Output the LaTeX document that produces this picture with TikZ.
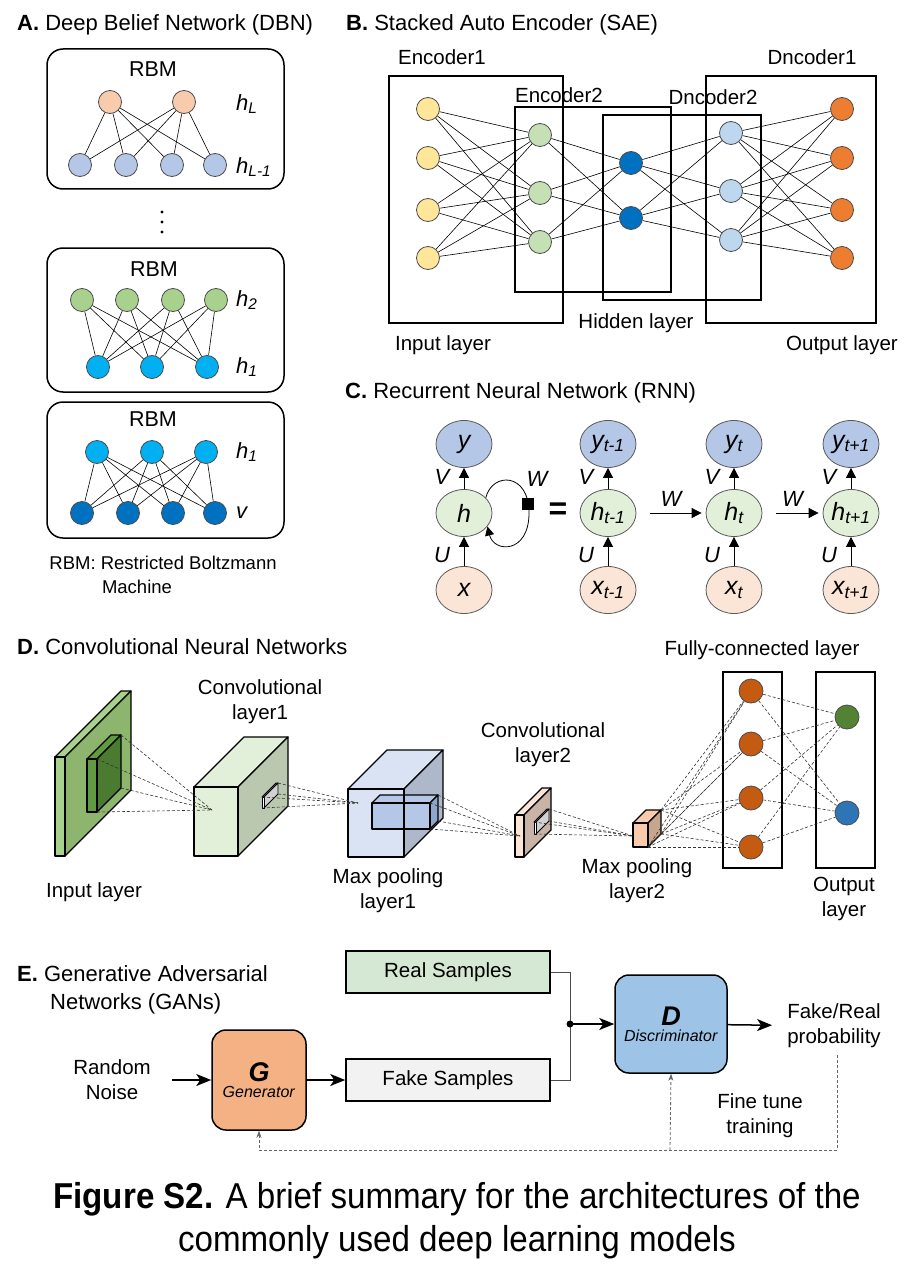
\documentclass[tikz,border=0pt]{standalone}
\usepackage{fontspec}
\setmainfont{Liberation Sans}
\newfontfamily\captionfont[FakeStretch=0.92]{Liberation Sans}
\usetikzlibrary{arrows.meta,positioning,shapes.geometric,calc}

\definecolor{peach}{HTML}{F8CBAD}
\definecolor{greyblue}{HTML}{B4C7E7}
\definecolor{leaf}{HTML}{A9D18E}
\definecolor{sky}{HTML}{00B0F0}
\definecolor{navy}{HTML}{0070C0}
\definecolor{butter}{HTML}{FFE699}
\definecolor{mint}{HTML}{C5E0B4}
\definecolor{ice}{HTML}{BDD7EE}
\definecolor{tangerine}{HTML}{ED7D31}
\definecolor{hgreen}{HTML}{E2F0D9}
\definecolor{xpeach}{HTML}{FBE5D6}
\definecolor{rust}{HTML}{C55A11}
\definecolor{outgreen}{HTML}{548235}
\definecolor{outblue}{HTML}{2E75B6}
\definecolor{realfill}{HTML}{D5E8D4}
\definecolor{fakefill}{HTML}{F2F2F2}
\definecolor{genfill}{HTML}{F4B183}
\definecolor{discfill}{HTML}{9DC3E6}
\definecolor{slabside}{HTML}{8DB56E}
\definecolor{kernfront}{HTML}{609A43}
\definecolor{kernside}{HTML}{4B7A31}
\definecolor{convside}{HTML}{BAC8B0}
\definecolor{poolfront}{HTML}{DAE3F3}
\definecolor{poolside}{HTML}{ADB9CA}
\definecolor{poolin}{HTML}{8FA6CC}
\definecolor{brownside}{HTML}{C9B2A6}
\definecolor{tanside}{HTML}{C8A58D}

\tikzset{
  unit/.style={circle, draw=black!70, line width=0.8pt, minimum size=23pt, inner sep=0pt},
  wire/.style={line width=0.6pt},
  layerbox/.style={draw, line width=1.6pt},
  rbmbox/.style={draw, line width=1.5pt, rounded corners=16pt},
  heading/.style={anchor=west, inner sep=0pt, font=\fontsize{22}{26}\selectfont},
  lbl/.style={inner sep=1pt, align=center, font=\fontsize{20.5}{25}\selectfont},
  mathlbl/.style={anchor=west, inner sep=0pt, font=\fontsize{22}{26}\selectfont\itshape},
  rnn/.style={ellipse, draw=black!65, line width=0.8pt, minimum width=56pt, minimum height=47pt, inner sep=0pt, font=\fontsize{25}{28}\selectfont\itshape},
  rnnlbl/.style={inner sep=0pt, font=\fontsize{22}{26}\selectfont\itshape},
  uparrow/.style={line width=0.8pt, -{Triangle[length=10pt,width=10pt]}},
  cubeedge/.style={draw=black, line width=1.3pt, line join=round},
  ray/.style={dash pattern=on 3pt off 2pt, line width=0.6pt, black!80},
  sample/.style={draw, line width=1.5pt, minimum width=204pt, minimum height=42pt, font=\fontsize{20.5}{24}\selectfont},
  netbox/.style={draw, line width=1.5pt, rounded corners=14pt, align=center},
  bigarrow/.style={line width=1.5pt, -{Stealth[length=15pt,width=12pt,inset=4pt]}},
  merge/.style={line width=0.9pt, black!70},
  fback/.style={dash pattern=on 3pt off 2pt, line width=0.8pt, black!60, -{Stealth[length=7pt,width=5pt]}},
}

% #1 name, #2 front top left, #3 width, #4 height, #5 depth, #6 front, #7 side, #8 top
\newcommand{\prism}[8]{%
  \coordinate (#1-ftl) at #2;
  \coordinate (#1-ftr) at ($(#1-ftl)+(#3,0)$);
  \coordinate (#1-fbl) at ($(#1-ftl)+(0,#4)$);
  \coordinate (#1-fbr) at ($(#1-ftr)+(0,#4)$);
  \coordinate (#1-btl) at ($(#1-ftl)+(#5,-#5)$);
  \coordinate (#1-btr) at ($(#1-ftr)+(#5,-#5)$);
  \coordinate (#1-bbr) at ($(#1-fbr)+(#5,-#5)$);
  \filldraw[cubeedge, fill=#8] (#1-ftl) -- (#1-btl) -- (#1-btr) -- (#1-ftr) -- cycle;
  \filldraw[cubeedge, fill=#7] (#1-ftr) -- (#1-btr) -- (#1-bbr) -- (#1-fbr) -- cycle;
  \filldraw[cubeedge, fill=#6] (#1-ftl) rectangle (#1-fbr);
}

\begin{document}
\begin{tikzpicture}[x=1pt,y=-1pt]
\useasboundingbox (0,0) rectangle (915,1284);
\fill[white] (0,0) rectangle (915,1284);

% A. Deep Belief Network
\node[heading] (headA) at (17,25) {\textbf{A.} Deep Belief Network (DBN)};

\draw[rbmbox] (47,49) rectangle (284,189);
\node[lbl, font=\fontsize{21.5}{25}\selectfont] (rbmA) at (153,69) {RBM};
\foreach \x [count=\i] in {110,184}
  \node[unit, fill=peach] (hl\i) at (\x,102) {};
\foreach \x [count=\i] in {80,126,172,215}
  \node[unit, fill=greyblue] (hm\i) at (\x,165) {};
\foreach \i in {1,2}
  \foreach \j in {1,...,4}
    \draw[wire] (hl\i) -- (hm\j);
\node[mathlbl] (labhl) at (236,104) {h\textsubscript{L}};
\node[mathlbl] (labhm) at (236,167) {h\textsubscript{L-1}};

% vertical dots
\foreach \y in {212,222,232}
  \fill (162,\y) circle (1.6pt);

\draw[rbmbox] (47,248) rectangle (284,392);
\node[lbl, font=\fontsize{21.5}{25}\selectfont] (rbmB) at (154,269) {RBM};
\foreach \x [count=\i] in {82,127,173,216}
  \node[unit, fill=leaf] (htwo\i) at (\x,300) {};
\foreach \x [count=\i] in {98,152,207}
  \node[unit, fill=sky] (hone\i) at (\x,367) {};
\foreach \i in {1,...,4}
  \foreach \j in {1,2,3}
    \draw[wire] (htwo\i) -- (hone\j);
\node[mathlbl] (labhtwo) at (236,300) {h\textsubscript{2}};
\node[mathlbl] (labhone) at (236,367) {h\textsubscript{1}};

\draw[rbmbox] (47,402) rectangle (284,538);
\node[lbl, font=\fontsize{21.5}{25}\selectfont] (rbmC) at (153,419) {RBM};
\foreach \x [count=\i] in {97,152,206}
  \node[unit, fill=sky] (hin\i) at (\x,452) {};
\foreach \x [count=\i] in {82,128,173,215}
  \node[unit, fill=navy] (vis\i) at (\x,513) {};
\foreach \i in {1,2,3}
  \foreach \j in {1,...,4}
    \draw[wire] (hin\i) -- (vis\j);
\node[mathlbl] (labhin) at (236,452) {h\textsubscript{1}};
\node[mathlbl] (labvis) at (236,513) {v};

\node[lbl, font=\fontsize{18.5}{22}\selectfont] (noteA) at (163,563) {RBM: Restricted Boltzmann};
\node[lbl, font=\fontsize{18.5}{22}\selectfont] (noteB) at (137,587) {Machine};

% B. Stacked Auto Encoder
\node[heading] (headB) at (346,25) {\textbf{B.} Stacked Auto Encoder (SAE)};
\draw[layerbox] (389,76) rectangle (563,323);
\draw[layerbox] (515,107) rectangle (671,292);
\draw[layerbox] (603,115) rectangle (761,300);
\draw[layerbox] (706,76) rectangle (876,323);
\node[lbl] (labenc1) at (442,57) {Encoder1};
\node[lbl] (labenc2) at (559,95) {Encoder2};
\node[lbl] (labdec2) at (713,97) {Dncoder2};
\node[lbl] (labdec1) at (812,57) {Dncoder1};
\node[lbl] (labhid) at (636,323) {Hidden layer};
\node[lbl] (labin) at (443,345) {Input layer};
\node[lbl] (labout) at (842,345) {Output layer};

\foreach \y [count=\i] in {109,158,210,258}
  \node[unit, fill=butter] (in\i) at (428,\y) {};
\foreach \y [count=\i] in {135,193,242}
  \node[unit, fill=mint] (en\i) at (540,\y) {};
\foreach \y [count=\i] in {163,218}
  \node[unit, fill=navy] (hd\i) at (631,\y) {};
\foreach \y [count=\i] in {133,191,240}
  \node[unit, fill=ice] (dn\i) at (731,\y) {};
\foreach \y [count=\i] in {109,158,210,258}
  \node[unit, fill=tangerine] (out\i) at (842,\y) {};
\foreach \i in {1,...,4}
  \foreach \j in {1,2,3}
    {\draw[wire] (in\i) -- (en\j);
     \draw[wire] (dn\j) -- (out\i);}
\foreach \i in {1,2,3}
  \foreach \j in {1,2}
    {\draw[wire] (en\i) -- (hd\j);
     \draw[wire] (hd\j) -- (dn\i);}

% C. Recurrent Neural Network
\node[heading] (headC) at (345,393) {\textbf{C.} Recurrent Neural Network (RNN)};
\node[rnn, fill=greyblue] (y0) at (464,444) {y};
\node[rnn, fill=hgreen] (h0) at (464,513) {h};
\node[rnn, fill=xpeach] (x0) at (464,590) {x};
\foreach \x/\s [count=\i] in {608/t-1, 734/t, 851/t+1} {
  \node[rnn, fill=greyblue] (y\i) at (\x,444) {y\textsubscript{\s}};
  \node[rnn, fill=hgreen] (h\i) at (\x,513) {h\textsubscript{\s}};
  \node[rnn, fill=xpeach] (x\i) at (\x,590) {x\textsubscript{\s}};
}
\foreach \i in {0,...,3} {
  \draw[uparrow] (h\i) -- (y\i);
  \draw[uparrow] (x\i) -- (h\i);
  \node[rnnlbl] (v\i) at ($(h\i)+(-22,-36)$) {V};
  \node[rnnlbl] (u\i) at ($(h\i)+(-22,42)$) {U};
}
\draw[line width=0.8pt, -{Triangle[length=9pt,width=9pt]}] (h0.35)
  .. controls (492,472) and (529,472) .. (529,513)
  .. controls (529,554) and (494,553) .. (h0.-30);
\node[fill=black, minimum size=12pt, inner sep=0pt] (wsq) at (528,504) {};
\node[rnnlbl] (w0) at (537,479) {W};
\node (eq) at (558,511) {\fontsize{32}{32}\selectfont\textbf{=}};
\draw[uparrow, shorten <=14pt, shorten >=4pt] (h1) -- (h2) node[rnnlbl, midway, above=6pt] (w1) {W};
\draw[uparrow, shorten <=14pt, shorten >=4pt] (h2) -- (h3) node[rnnlbl, midway, above=6pt] (w2) {W};

% D. Convolutional Neural Networks
\node[heading] (headD) at (17,647) {\textbf{D.} Convolutional Neural Networks};
\prism{slab}{(55,757)}{10}{99}{66}{leaf}{slabside}{leaf}
\prism{k1}{(87,759)}{10}{53}{24}{kernfront}{kernside}{kernfront}
\prism{conv1}{(194,787)}{44}{69}{50}{hgreen}{convside}{hgreen}
\begin{scope}[cubeedge/.style={draw=black, line width=0.8pt, line join=round}]
\prism{k2}{(262,797)}{2}{11}{14}{white}{black!18}{white}
\end{scope}
\prism{pool1}{(348,789)}{56}{68}{39}{poolfront}{poolside}{poolfront}
\prism{k4}{(372,803)}{58}{26}{8}{greyblue}{poolin}{greyblue}
\draw[cubeedge] (pool1-ftr) -- (pool1-fbr);
\prism{conv2}{(515,815)}{9}{42}{27}{xpeach}{brownside}{xpeach}
\begin{scope}[cubeedge/.style={draw=black, line width=0.8pt, line join=round}]
\prism{k3}{(534,822)}{2}{12}{13}{white}{black!18}{white}
\end{scope}
\prism{pool2}{(633,823)}{15}{24}{13}{peach}{tanside}{peach}

\coordinate (fo1) at (212,810);
\coordinate (fo2) at (358,803);
\coordinate (fo3) at (520,836);
\coordinate (fo4) at (633,836);
\foreach \c in {btr,ftr,bbr,fbr}
  \draw[ray] (k1-\c) -- (fo1);
\foreach \c in {btr,bbr,ftl,fbl}
  \draw[ray] (k2-\c) -- (fo2);
\foreach \c in {btr,bbr,fbr,ftr}
  \draw[ray] (k4-\c) -- (fo3);
\foreach \c in {btr,bbr,ftl,fbl}
  \draw[ray] (k3-\c) -- (fo4);

\draw[layerbox] (723,672) rectangle (782,868);
\draw[layerbox] (816,672) rectangle (875,868);
\foreach \y [count=\i] in {691,744,798,847}
  \node[unit, fill=rust, minimum size=24pt] (fc\i) at (751,\y) {};
\node[unit, fill=outgreen, minimum size=24pt] (o1) at (847,717) {};
\node[unit, fill=outblue, minimum size=24pt] (o2) at (847,813) {};
\foreach \i in {1,...,4} {
  \foreach \c in {btr,bbr,fbr}
    \draw[ray] (pool2-\c) -- (fc\i);
  \foreach \j in {1,2}
    \draw[ray] (fc\i) -- (o\j);
}

\node[lbl] (labconv1) at (260,702) {Convolutional\\layer1};
\node[lbl] (labinput) at (94,892) {Input layer};
\node[lbl] (labpool1) at (388,891) {Max pooling\\layer1};
\node[lbl] (labconv2) at (543,745) {Convolutional\\layer2};
\node[lbl] (labpool2) at (637,881) {Max pooling\\layer2};
\node[lbl] (labfc) at (762,650) {Fully-connected layer};
\node[lbl] (laboutput) at (844,899) {Output\\layer};

% E. Generative Adversarial Networks
\node[heading] (headE) at (17,974) {\textbf{E.} Generative Adversarial};
\node[heading] (headE2) at (50,1004) {Networks (GANs)};
\node[sample, fill=realfill] (real) at (448,972) {Real Samples};
\node[sample, fill=fakefill] (fake) at (448,1080) {Fake Samples};
\node[netbox, fill=genfill, minimum width=94pt, minimum height=100pt] (gen) at (259,1080)
  {{\fontsize{27}{30}\selectfont\textbf{\textit{G}}}\\[4pt]{\fontsize{16}{19}\selectfont\textit{Generator}}};
\node[netbox, fill=discfill, minimum width=112pt, minimum height=98pt] (disc) at (671,1024)
  {{\fontsize{27}{30}\selectfont\textbf{\textit{D}}}\\[4pt]{\fontsize{16}{19}\selectfont\textit{Discriminator}}};
\node[lbl] (noise) at (112,1080) {Random\\Noise};
\node[lbl] (prob) at (834,1026) {Fake/Real\\probability};
\node[lbl] (tune) at (760,1116) {Fine tune\\training};
\coordinate (join) at (570,1024);

\draw[bigarrow, shorten <=20pt] (noise) -- (gen);
\draw[bigarrow] (gen) -- (fake);
\draw[merge] (real.east) -| (join);
\draw[merge] (fake.east) -| (join);
\fill (join) circle (3.5pt);
\draw[bigarrow] (join) -- (disc);
\draw[bigarrow, shorten >=14pt] (disc) -- (prob);
\coordinate (fbR) at (837,1150);
\coordinate (fbD) at (670,1150);
\coordinate (fbG) at (259,1150);
\draw[fback] ([yshift=-6pt]prob.south -| fbR) -- (fbR) -- (fbG) -- (gen.south);
\draw[fback] (fbD) -- (disc.south);

% caption
\node[align=center, font=\captionfont\fontsize{36}{43}\selectfont] (caption) at (457,1221)
  {\textbf{Figure S2.} A brief summary for the architectures of the\\commonly used deep learning models};
\end{tikzpicture}
\end{document}
